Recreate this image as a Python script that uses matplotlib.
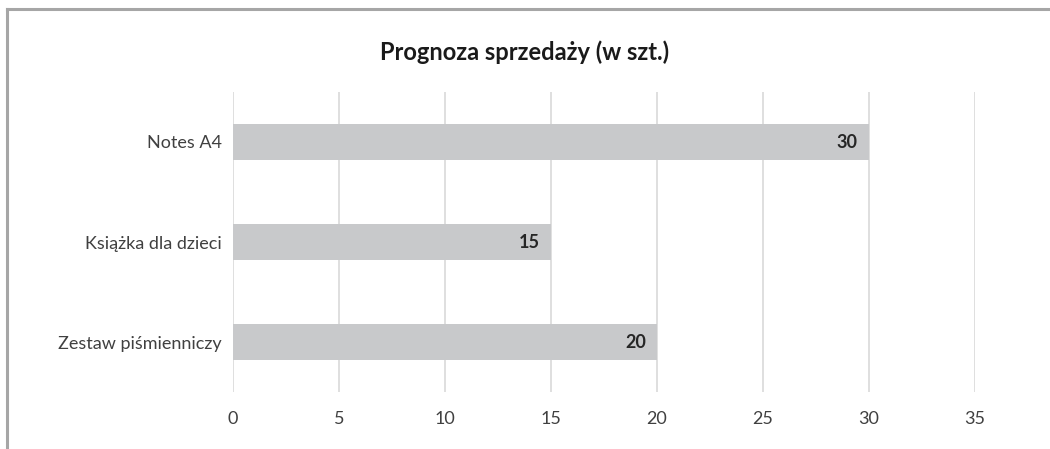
import matplotlib.pyplot as plt
from matplotlib.lines import Line2D

# sales forecast (pieces)
products = ['Notes A4', 'Książka dla dzieci', 'Zestaw piśmienniczy']
forecast = [30, 15, 20]
x_ticks = [0, 5, 10, 15, 20, 25, 30, 35]

plt.rcParams['font.family'] = ['Lato', 'DejaVu Sans']

fig = plt.figure(figsize=(10.5, 4.49), dpi=100)
ax = fig.add_axes([233/1050, 57/449, 742/1050, 300/449])

pos = list(range(len(products)))[::-1]
bars = ax.barh(pos, forecast, height=0.36, color='#C8C9CB', zorder=2)

ax.set_xlim(0, 35)
ax.set_ylim(-0.5, 2.5)
ax.set_xticks(x_ticks)
ax.set_xticklabels([str(t) for t in x_ticks])
ax.set_yticks(pos)
ax.set_yticklabels(products)
ax.tick_params(axis='both', length=0, labelsize=13, colors='#404040')
ax.tick_params(axis='x', pad=14)
ax.tick_params(axis='y', pad=8)
ax.grid(axis='x', color='#D9D9D9', linewidth=1.2, zorder=0)
for s in ax.spines.values():
    s.set_visible(False)

for b, v in zip(bars, forecast):
    ax.annotate(str(v), (b.get_width(), b.get_y() + b.get_height() / 2),
                xytext=(-8, 0), textcoords='offset points',
                ha='right', va='center', fontsize=13, fontweight='bold',
                color='#262626')

fig.text(0.5, 1 - 52/449, 'Prognoza sprzedaży (w szt.)', ha='center',
         va='center', fontsize=17, fontweight='bold', color='#1a1a1a')

# chart frame (top and left edges)
fig.add_artist(Line2D([7/1050, 1], [1 - 9/449, 1 - 9/449], color='#A6A6A6',
                      linewidth=2.2, transform=fig.transFigure))
fig.add_artist(Line2D([7/1050, 7/1050], [0, 1 - 9/449], color='#A6A6A6',
                      linewidth=2.2, transform=fig.transFigure))

fig.savefig('out.png', dpi=100, facecolor='white')
